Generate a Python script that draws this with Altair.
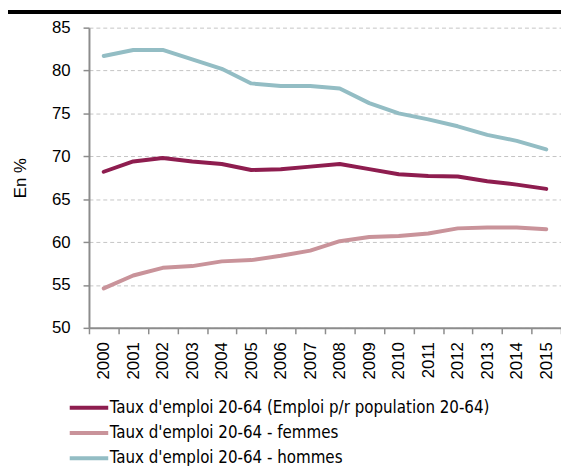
import altair as alt
import pandas as pd

years = [str(y) for y in range(2000, 2016)]
total = [68.2, 69.4, 69.8, 69.4, 69.1, 68.4, 68.5, 68.8, 69.1, 68.5, 67.9, 67.7, 67.65, 67.1, 66.7, 66.2]
femmes = [54.6, 56.1, 57.0, 57.2, 57.75, 57.9, 58.4, 59.0, 60.1, 60.6, 60.7, 61.0, 61.6, 61.7, 61.7, 61.5]
hommes = [81.7, 82.4, 82.4, 81.3, 80.2, 78.5, 78.2, 78.2, 77.9, 76.2, 75.0, 74.3, 73.5, 72.5, 71.8, 70.8]

series = [
    "Taux d'emploi 20-64 (Emploi p/r population 20-64)",
    "Taux d'emploi 20-64 - femmes",
    "Taux d'emploi 20-64 - hommes",
]
colors = ["#8e1d4f", "#c9939a", "#93bdc4"]

rows = []
for name, vals in zip(series, [total, femmes, hommes]):
    for y, v in zip(years, vals):
        rows.append({"Année": y, "Série": name, "Valeur": v})
df = pd.DataFrame(rows)

W, H = 478, 304
axis_color = "#8c8c8c"

lines = alt.Chart(df).mark_line(strokeWidth=4, strokeCap="round", strokeJoin="round").encode(
    x=alt.X("Année:O", sort=years,
            scale=alt.Scale(paddingInner=0, paddingOuter=0),
            axis=alt.Axis(title=None, labelAngle=-90, labelAlign="right", labelBaseline="middle",
                          labelFont="Liberation Sans", labelFontSize=17, labelColor="#000",
                          labelPadding=8, tickSize=6, tickBand="extent", tickColor=axis_color,
                          tickWidth=1.5, domainColor=axis_color, domainWidth=2, grid=False)),
    y=alt.Y("Valeur:Q", scale=alt.Scale(domain=[50, 85], nice=False, zero=False),
            axis=alt.Axis(title="En %", values=[50, 55, 60, 65, 70, 75, 80, 85],
                          labelFont="Liberation Sans", labelFontSize=17, labelColor="#000",
                          labelPadding=13, tickSize=6, tickColor=axis_color, tickWidth=1.5,
                          domainColor=axis_color, domainWidth=2,
                          grid=True, gridColor="#c4c4c4", gridDash=[4, 3], gridWidth=1,
                          titleFont="Liberation Sans", titleFontSize=17, titleFontWeight="normal",
                          titleColor="#000", titleAngle=-90, titleX=-64, titleY=H / 2,
                          titleAlign="center", titleBaseline="alphabetic")),
    color=alt.Color("Série:N", scale=alt.Scale(domain=series, range=colors),
                    legend=alt.Legend(title=None, orient="none", legendX=-12, legendY=H + 69,
                                      direction="vertical", symbolType="M-2,0L2,0",
                                      symbolSize=380, symbolStrokeWidth=4,
                                      symbolFillColor="transparent",
                                      labelFont="DejaVu Sans Condensed, Roboto, Liberation Sans",
                                      labelFontSize=17,
                                      labelColor="#000", labelOffset=9, rowPadding=5.5,
                                      labelLimit=600)),
)

topbar = alt.Chart(df).mark_rule(color="#000", strokeWidth=3).encode(
    x=alt.value(-82), x2=alt.value(W + 10), y=alt.value(-15.5)
)

chart = alt.layer(lines, topbar).properties(
    width=W, height=H,
    autosize=alt.AutoSizeParams(type="none"),
    padding={"left": 82, "top": 17, "right": 0, "bottom": 137},
).configure_view(stroke=None)

chart.save("out.html", embed_options={"renderer": "svg", "actions": False})
